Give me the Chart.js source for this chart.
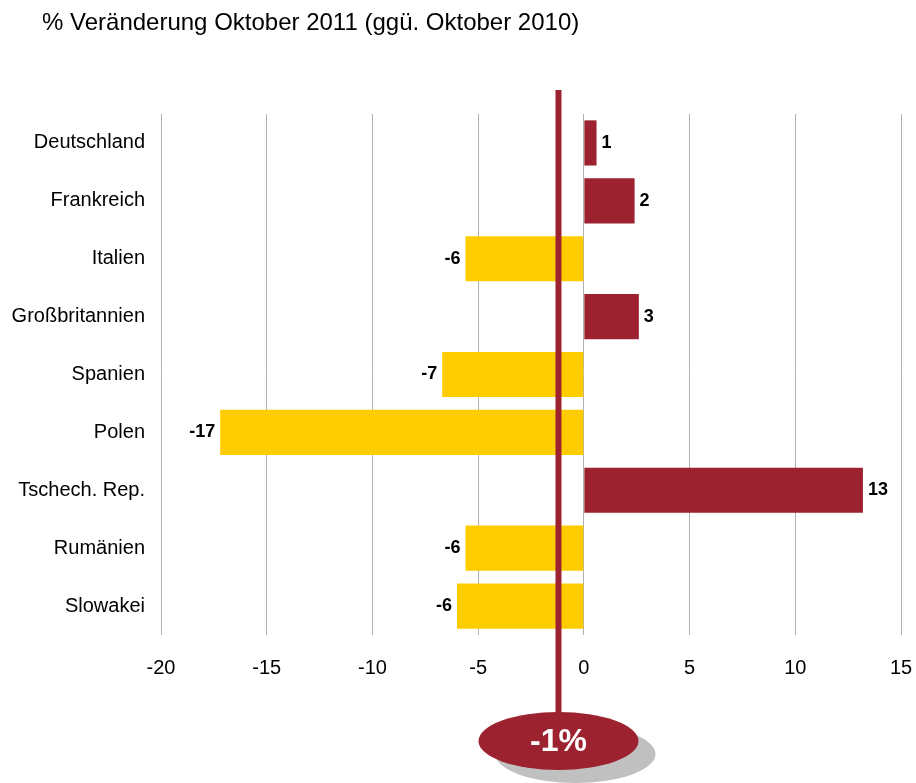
<!DOCTYPE html>
<html>
<head>
<meta charset="utf-8">
<script src="https://cdn.jsdelivr.net/npm/chart.js@4/dist/chart.umd.min.js"></script>
<style>
  html, body { margin: 0; padding: 0; background: #fff; }
  #wrap { width: 916px; height: 783px; position: relative; }
</style>
</head>
<body>
<div id="wrap"><canvas id="chart"></canvas></div>
<script>
const titleText = '% Veränderung Oktober 2011 (ggü. Oktober 2010)';
const countries = ['Deutschland', 'Frankreich', 'Italien', 'Großbritannien', 'Spanien', 'Polen', 'Tschech. Rep.', 'Rumänien', 'Slowakei'];
const changes = [0.6, 2.4, -5.6, 2.6, -6.7, -17.2, 13.2, -5.6, -6.0];
const valueLabels = ['1', '2', '-6', '3', '-7', '-17', '13', '-6', '-6'];
const totalChange = -1.2;
const totalLabel = '-1%';

const RED = '#9c2230';
const YELLOW = '#ffcc00';
const FONT = '"Liberation Sans", Arial, sans-serif';

// title, value labels, total line + ellipse
const overlay = {
    id: 'overlay',
    afterDatasetsDraw(chart) {
        const ctx = chart.ctx;
        const x = chart.scales.x;
        const meta = chart.getDatasetMeta(0);

        ctx.save();
        ctx.fillStyle = '#000';
        ctx.font = '24px ' + FONT;
        ctx.textBaseline = 'middle';
        ctx.textAlign = 'left';
        ctx.fillText(titleText, 42, 23);

        ctx.font = 'bold 18px ' + FONT;
        meta.data.forEach((bar, i) => {
            const v = changes[i];
            ctx.textAlign = v >= 0 ? 'left' : 'right';
            ctx.fillText(valueLabels[i], bar.x + (v >= 0 ? 5 : -5), bar.y);
        });

        const lx = x.getPixelForValue(totalChange);
        ctx.strokeStyle = RED;
        ctx.lineWidth = 6;
        ctx.beginPath();
        ctx.moveTo(lx, 90);
        ctx.lineTo(lx, 730);
        ctx.stroke();

        const cy = 741;
        ctx.fillStyle = '#c0c0c0';
        ctx.beginPath();
        ctx.ellipse(lx + 17, cy + 13, 80, 29, 0, 0, Math.PI * 2);
        ctx.fill();
        ctx.fillStyle = RED;
        ctx.beginPath();
        ctx.ellipse(lx, cy, 80, 29, 0, 0, Math.PI * 2);
        ctx.fill();

        ctx.fillStyle = '#fff';
        ctx.font = 'bold 32px ' + FONT;
        ctx.textAlign = 'center';
        ctx.fillText(totalLabel, lx, cy + 1);
        ctx.restore();
    }
};

new Chart(document.getElementById('chart'), {
    type: 'bar',
    data: {
        labels: countries,
        datasets: [{
            data: changes,
            backgroundColor: changes.map(v => v >= 0 ? RED : YELLOW),
            barPercentage: 0.78,
            categoryPercentage: 1
        }]
    },
    options: {
        indexAxis: 'y',
        responsive: true,
        maintainAspectRatio: false,
        animation: false,
        layout: { padding: { top: 114, right: 0, bottom: 98, left: 0 } },
        plugins: { legend: { display: false }, tooltip: { enabled: false } },
        scales: {
            x: {
                min: -20,
                max: 15,
                afterFit(s) { s.height = 50; s.paddingRight = 15; },
                ticks: { stepSize: 5, color: '#000', font: { family: FONT, size: 20 }, padding: 21 },
                grid: { color: '#b0b0b0', drawTicks: false },
                border: { display: false }
            },
            y: {
                afterFit(s) { s.width = 161; },
                ticks: { color: '#000', font: { family: FONT, size: 20 }, padding: 16 },
                grid: { display: false, drawTicks: false },
                border: { display: false }
            }
        }
    },
    plugins: [overlay]
});
</script>
</body>
</html>
